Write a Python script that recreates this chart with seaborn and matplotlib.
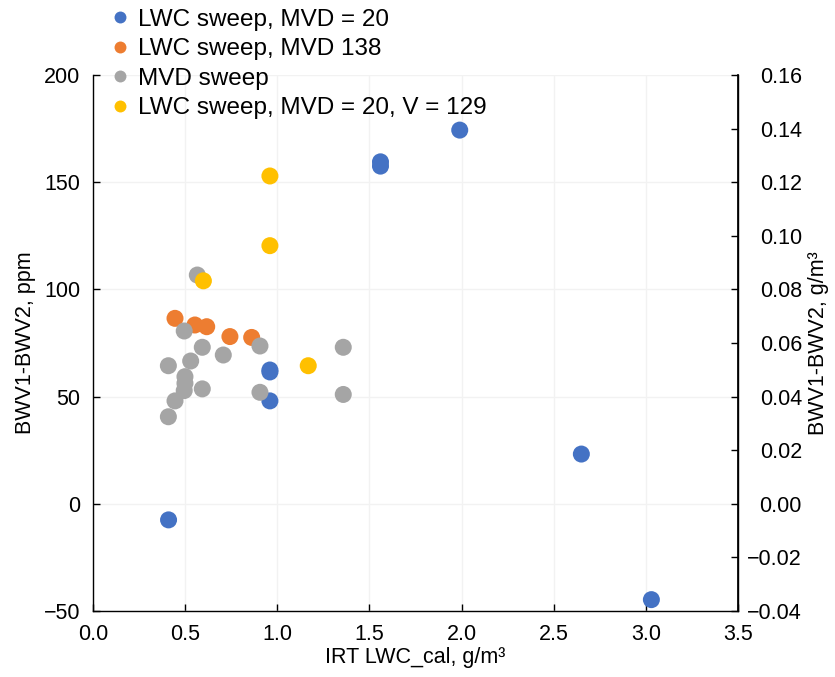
import matplotlib
matplotlib.use("Agg")
import matplotlib.pyplot as plt
import seaborn as sns
import pandas as pd

# --- data ---
blue_x = [0.41, 0.96, 0.96, 0.96, 1.56, 1.56, 1.99, 2.65, 3.03]
blue_y = [-7.5, 62.4, 61.5, 48.0, 157.5, 159.5, 174.3, 23.2, -44.7]

orange_x = [0.445, 0.553, 0.617, 0.743, 0.861]
orange_y = [86.5, 83.4, 82.6, 78.0, 77.6]

gray_x = [0.566, 0.495, 0.593, 0.707, 0.906, 1.358, 0.409, 0.530, 0.499,
          0.499, 0.495, 0.593, 0.906, 1.358, 0.445, 0.409]
gray_y = [106.7, 80.6, 73.0, 69.4, 73.6, 73.0, 64.4, 66.6, 59.3,
          56.2, 52.8, 53.6, 52.0, 51.0, 48.0, 40.6]

yellow_x = [0.599, 1.168, 0.96, 0.96]
yellow_y = [104.0, 64.4, 120.4, 152.9]

series = ["LWC sweep, MVD = 20", "LWC sweep, MVD 138", "MVD sweep",
          "LWC sweep, MVD = 20, V = 129"]
colors = ["#4472C4", "#ED7D31", "#A5A5A5", "#FFC000"]

x_ticks = [0.0, 0.5, 1.0, 1.5, 2.0, 2.5, 3.0, 3.5]
y_ticks = [-50, 0, 50, 100, 150, 200]
y2_ticks = [-0.04, -0.02, 0.00, 0.02, 0.04, 0.06, 0.08, 0.10, 0.12, 0.14, 0.16]
ppm_to_gm3 = 0.0008

frames = []
for name, xs, ys in zip(series,
                        [blue_x, orange_x, gray_x, yellow_x],
                        [blue_y, orange_y, gray_y, yellow_y]):
    frames.append(pd.DataFrame({"x": xs, "y": ys, "series": name}))
df = pd.concat(frames, ignore_index=True)

sns.set_theme(style="white")
plt.rcParams["font.family"] = ["Liberation Sans", "DejaVu Sans"]
plt.rcParams["text.color"] = "black"
plt.rcParams["axes.labelcolor"] = "black"
plt.rcParams["xtick.color"] = "black"
plt.rcParams["ytick.color"] = "black"

fig = plt.figure(figsize=(8.35, 6.77), dpi=100)
ax = fig.add_axes([93 / 835, 66 / 677, (738 - 93) / 835, (611 - 75) / 677])

sns.scatterplot(data=df, x="x", y="y", hue="series", hue_order=series,
                palette=colors, s=150, edgecolor="none", alpha=1.0,
                ax=ax, zorder=3)

fs = 15.5
lfs = 17.5
ax.set_xlim(0, 3.5)
ax.set_ylim(-50, 200)
ax.set_xticks(x_ticks)
ax.set_xticklabels([f"{v:.1f}" for v in x_ticks])
ax.set_yticks(y_ticks)
ax.set_yticklabels([f"{v:d}".replace("-", "\u2212") for v in y_ticks])
ax.grid(True, color="#f2f2f2", linewidth=1.0, zorder=0)
ax.set_axisbelow(True)

ax.set_xlabel("IRT LWC_cal, g/m³", fontsize=fs, labelpad=2)
ax.set_ylabel("BWV1-BWV2, ppm", fontsize=fs, labelpad=6)
ax.tick_params(axis="both", direction="in", length=5, width=1, labelsize=fs,
               colors="black", pad=9)
ax.tick_params(axis="x", bottom=True)
ax.tick_params(axis="y", left=True)

for side in ["left", "bottom", "right"]:
    ax.spines[side].set_color("black")
    ax.spines[side].set_linewidth(1.0)
ax.spines["top"].set_visible(False)

ax2 = ax.twinx()
ax2.set_ylim(-50 * ppm_to_gm3, 200 * ppm_to_gm3)
ax2.set_yticks(y2_ticks)
ax2.set_yticklabels([f"{v:.2f}".replace("-", "\u2212") for v in y2_ticks])
ax2.tick_params(axis="y", direction="in", length=5, width=1, labelsize=fs,
                colors="black", pad=(802 - 738) / 1.389, right=True)
for lab in ax2.get_yticklabels():
    lab.set_horizontalalignment("right")
ax2.set_ylabel("BWV1-BWV2, g/m³", fontsize=fs, labelpad=4)
ax2.spines["top"].set_visible(False)
ax2.spines["right"].set_color("black")
ax2.spines["left"].set_visible(False)
ax2.spines["bottom"].set_visible(False)
ax2.grid(False)

handles, labels = ax.get_legend_handles_labels()
ax.legend_.remove()
leg = fig.legend(handles, labels, loc="upper left",
                 bbox_to_anchor=(98 / 835, 1 + 1 / 677),
                 frameon=False, fontsize=lfs, handletextpad=0.24,
                 labelspacing=0.31, borderaxespad=0, markerscale=0.7,
                 handlelength=1.0)

fig.savefig("out.png", dpi=100)
